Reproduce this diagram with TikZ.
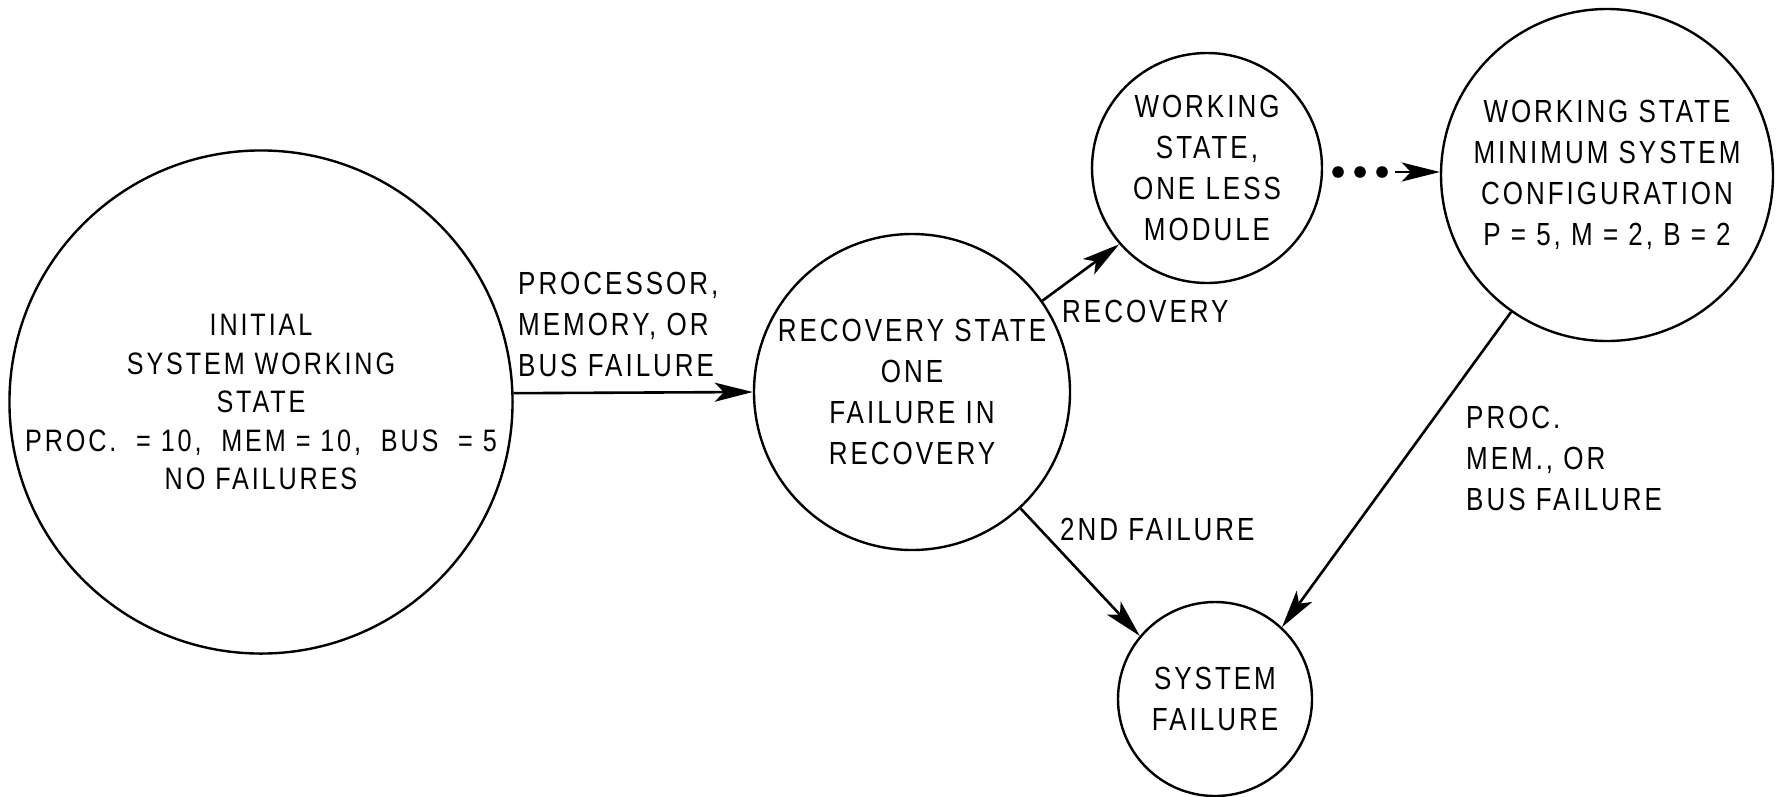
\documentclass[tikz,border=0pt]{standalone}
\usepackage{fontspec}
\setmainfont{Liberation Sans}
\newfontfamily\lettering[FakeStretch=0.8125,LetterSpace=9.3]{Liberation Sans}
\usetikzlibrary{arrows.meta}
\begin{document}
\begin{tikzpicture}[x=1pt,y=-1pt,
  state/.style={circle,draw,line width=2.4pt,inner sep=0pt,align=center,font=\lettering\fontsize{32}{41}\selectfont},
  lbl/.style={inner sep=0pt,align=left,font=\lettering\fontsize{32}{41}\selectfont},
  arr/.style={line width=2.6pt,-{Stealth[length=38pt,width=19pt,inset=9pt]}},
]
\useasboundingbox[fill=white] (0,0) rectangle (1785,796);
\node[state,minimum size=500pt,font=\lettering\fontsize{31}{38.5}\selectfont] (init) at (261,402)
  {INITIAL\\SYSTEM WORKING\\STATE\\PROC.\ \ = 10,\ \ MEM = 10,\ \ BUS\ \ = 5\\NO FAILURES};
\node[state,minimum size=316pt] (rec) at (912,392)
  {RECOVERY STATE\\ONE\\FAILURE IN\\RECOVERY};
\node[state,minimum size=230pt] (one) at (1207,168)
  {WORKING\\STATE,\\ONE LESS\\MODULE};
\node[state,minimum size=332pt] (min) at (1607,175)
  {WORKING STATE\\MINIMUM SYSTEM\\CONFIGURATION\\P = 5, M = 2, B = 2};
\node[state,minimum size=194pt] (sys) at (1215,699)
  {SYSTEM\\FAILURE};

\node[lbl,anchor=west] (l1) at (518,324) {PROCESSOR,\\MEMORY, OR\\BUS FAILURE};
\node[lbl,anchor=base west] (l2) at (1062,322) {RECOVERY};
\node[lbl,anchor=base west] (l3) at (1060,540) {2ND FAILURE};
\node[lbl,anchor=west] (l4) at (1466,458) {PROC.\\MEM., OR\\BUS FAILURE};

\draw[arr] (init.2) -- (rec.west);
\draw[arr] (rec.35) -- (one.221);
\draw[arr] (rec.-47) -- (sys.140);
\draw[arr] (min.235) -- (sys.47);

\fill (1338,172) circle (5.8pt) (1360,172) circle (5.8pt) (1382,172) circle (5.8pt);
\coordinate (dend) at (1395,172);
\draw[arr] (dend) -- (min.west |- dend);
\end{tikzpicture}
\end{document}
